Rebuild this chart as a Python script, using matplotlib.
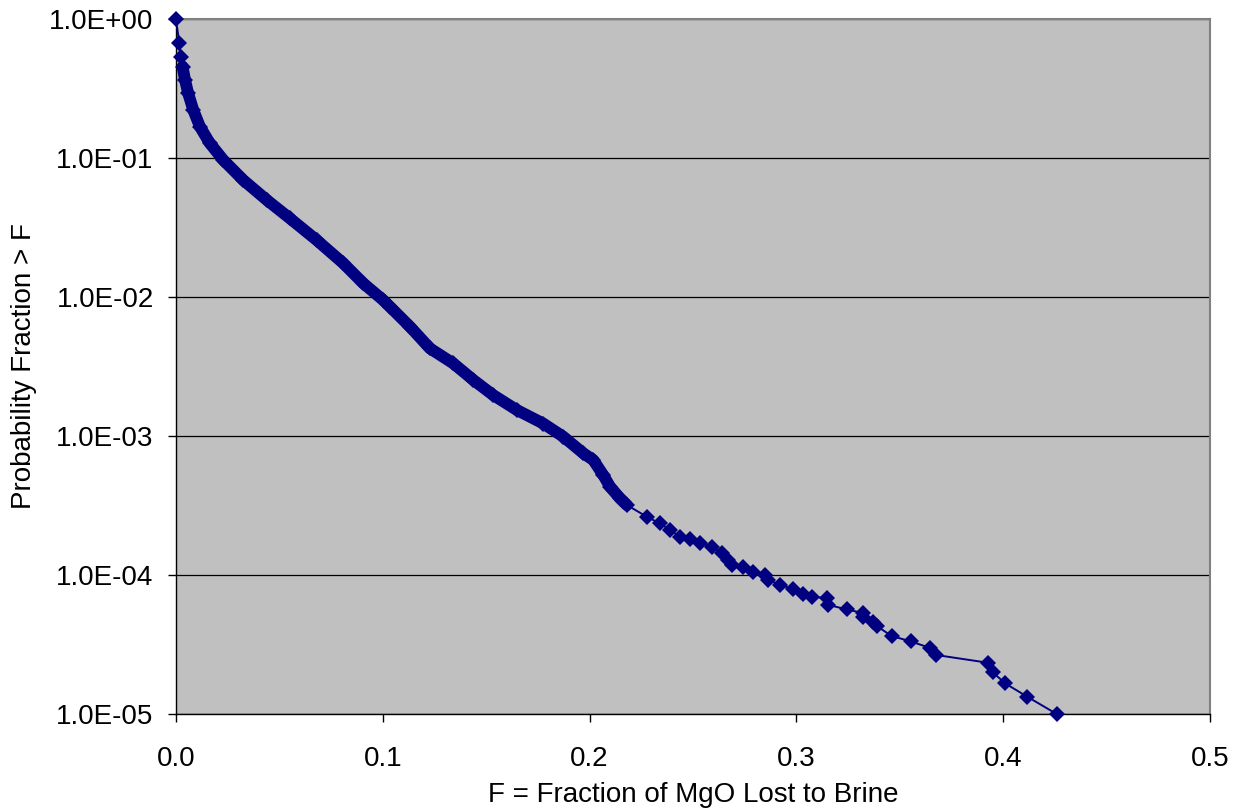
import numpy as np
import matplotlib.pyplot as plt
from matplotlib.ticker import FuncFormatter, FixedLocator

# F = fraction of MgO lost to brine
frac_lost = [0.0, 0.0016, 0.0024, 0.0032, 0.0044, 0.0059, 0.0084, 0.0116, 0.0164,
             0.0229, 0.0325, 0.0439, 0.0551, 0.0680, 0.0809, 0.0906, 0.1002, 0.1035,
             0.1132, 0.1228, 0.1341, 0.1438, 0.1534, 0.1648, 0.1776, 0.1873, 0.1970,
             0.2018, 0.2066, 0.2099, 0.2147, 0.2180, 0.2276, 0.2340, 0.2389, 0.2437,
             0.2485, 0.2534, 0.2590, 0.2639, 0.2671, 0.2687, 0.2743, 0.2789, 0.2848,
             0.2864, 0.2921, 0.2985, 0.3030, 0.3074, 0.3147, 0.3154, 0.3243, 0.3321,
             0.3323, 0.3372, 0.3388, 0.3461, 0.3553, 0.3646, 0.3675, 0.3925, 0.3949,
             0.4010, 0.4117, 0.4259]
# probability fraction > F
prob_exceed = [1.0, 0.675, 0.530, 0.454, 0.364, 0.292, 0.221, 0.168, 0.1276,
               0.0968, 0.0695, 0.0499, 0.0368, 0.0257, 0.0175, 0.01254, 0.00951, 0.00851,
               0.00611, 0.00427, 0.00333, 0.00253, 0.00197, 0.00154, 0.00123, 0.000989, 0.000751,
               6.72e-4, 5.24e-4, 4.32e-4, 3.56e-4, 3.19e-4, 2.63e-4, 2.35e-4, 2.11e-4, 1.89e-4,
               1.81e-4, 1.69e-4, 1.60e-4, 1.43e-4, 1.28e-4, 1.18e-4, 1.15e-4, 1.06e-4, 1.0e-4,
               9.2e-5, 8.5e-5, 7.9e-5, 7.3e-5, 7.0e-5, 6.8e-5, 6.1e-5, 5.66e-5, 5.33e-5,
               5.0e-5, 4.6e-5, 4.3e-5, 3.64e-5, 3.33e-5, 2.99e-5, 2.66e-5, 2.34e-5, 2.0e-5,
               1.66e-5, 1.33e-5, 1.0e-5]

x_ticks = [0.0, 0.1, 0.2, 0.3, 0.4, 0.5]
y_ticks = [1e-5, 1e-4, 1e-3, 1e-2, 1e-1, 1e0]

navy = "#000080"
plt.rcParams['font.family'] = ['Liberation Sans', 'DejaVu Sans']

fig = plt.figure(figsize=(12.4, 8.09), dpi=100)
ax = fig.add_axes([0.1419, 0.1174, 0.8339, 0.8591])
ax.set_facecolor("#C0C0C0")

# the dense part of the curve is a solid band of overlapping markers
d0, d1 = 3, 32
ax.plot(frac_lost[d0:d1], prob_exceed[d0:d1], color=navy, lw=8.5,
        solid_capstyle="round", solid_joinstyle="round", zorder=3)
ax.plot(frac_lost, prob_exceed, color=navy, lw=1.4, marker="D", markersize=8,
        markeredgewidth=0, zorder=4, clip_on=False)

ax.set_yscale("log")
ax.set_xlim(0, 0.5)
ax.set_ylim(1e-5, 1)
ax.xaxis.set_major_locator(FixedLocator(x_ticks))
ax.yaxis.set_major_locator(FixedLocator(y_ticks))
ax.yaxis.set_minor_locator(FixedLocator([]))
ax.xaxis.set_major_formatter(FuncFormatter(lambda v, p: f"{v:.1f}"))
ax.yaxis.set_major_formatter(FuncFormatter(lambda v, p: f"{v:.1E}"))

ax.grid(True, axis="y", color="black", lw=0.9)
ax.set_axisbelow(True)

for s in ["top", "right"]:
    ax.spines[s].set_color("#808080")
    ax.spines[s].set_linewidth(1.5)
for s in ["left", "bottom"]:
    ax.spines[s].set_color("black")
    ax.spines[s].set_linewidth(1)

ax.tick_params(axis="x", direction="out", length=6, width=1, labelsize=20, pad=17)
ax.tick_params(axis="y", direction="out", length=6, width=1, labelsize=20, pad=10)

ax.set_xlabel("F = Fraction of MgO Lost to Brine", fontsize=20, labelpad=7)
ax.set_ylabel("Probability Fraction > F", fontsize=20, labelpad=9)

fig.savefig("out.png", dpi=100)
